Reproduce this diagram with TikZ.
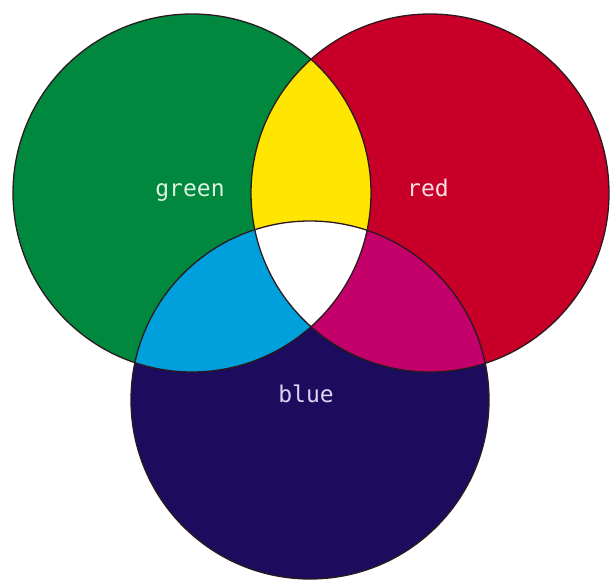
\documentclass[tikz,border=0pt]{standalone}
\usepackage{fontspec}
\newfontfamily\labelfont{DejaVu Sans Mono}
\definecolor{cgreen}{HTML}{00883E}
\definecolor{cred}{HTML}{C80029}
\definecolor{cblue}{HTML}{1C0C5E}
\definecolor{cyellow}{HTML}{FFE600}
\definecolor{ccyan}{HTML}{00A0DC}
\definecolor{cmagenta}{HTML}{C4006B}
\definecolor{cline}{HTML}{2A1A1E}
\definecolor{tgreen}{HTML}{DDF2E0}
\definecolor{tred}{HTML}{FAE0E6}
\definecolor{tblue}{HTML}{DCD4F2}
\tikzset{
  outline/.style={draw=cline, line width=1.3pt},
  lbl/.style={font=\labelfont\fontsize{23}{23}\selectfont, inner sep=0pt, anchor=base}
}
\begin{document}
\begin{tikzpicture}[x=1pt,y=-1pt]
\useasboundingbox[fill=white] (0,0) rectangle (613,581);
\def\G{(192,193) circle[radius=179pt]}
\def\R{(430,193) circle[radius=179pt]}
\def\B{(310,400) circle[radius=179pt]}
\fill[cgreen] \G;
\fill[cred] \R;
\fill[cblue] \B;
\begin{scope}
  \clip \G;
  \fill[cyellow] \R;
  \fill[ccyan] \B;
  \clip \R;
  \fill[white] \B;
\end{scope}
\begin{scope}
  \clip \R;
  \clip \B;
  \fill[cmagenta] \B;
  \clip \G;
  \fill[white] \B;
\end{scope}
\draw[outline] \G;
\draw[outline] \R;
\draw[outline] \B;
\node[lbl, text=tgreen] (lgreen) at (190,196) {green};
\node[lbl, text=tred] (lred) at (428,196) {red};
\node[lbl, text=tblue] (lblue) at (306,402) {blue};
\end{tikzpicture}
\end{document}
